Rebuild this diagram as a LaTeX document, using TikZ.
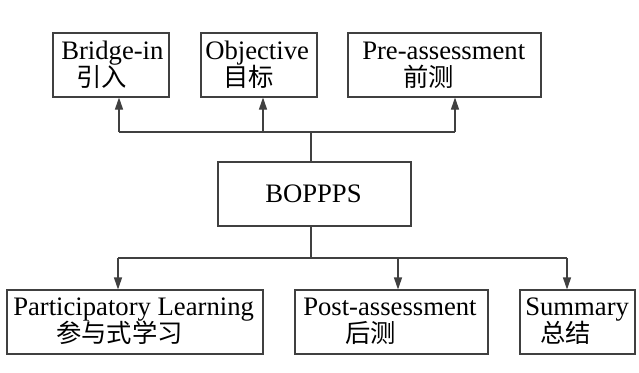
\documentclass[tikz,border=0pt]{standalone}
\usepackage{fontspec}
\setmainfont{Liberation Serif}
\newfontfamily\cjk{Noto Sans CJK SC}
\usetikzlibrary{arrows.meta}
\begin{document}
\begin{tikzpicture}[x=0.75pt,y=-0.75pt,
  box/.style={draw=black!75, line width=0.8pt, rectangle, inner sep=0pt, minimum height=48pt},
  en/.style={font=\fontsize{20}{24}\selectfont, anchor=base west, inner sep=0pt},
  zh/.style={font=\cjk\fontsize{19}{22}\selectfont, anchor=west, inner sep=0pt},
  link/.style={draw=black!75, line width=0.8pt},
  arr/.style={link, -{Triangle[width=6pt,length=9pt]}}]
\useasboundingbox (0,0) rectangle (639,372);
% boxes
\node[box, minimum width=87pt] (bridge) at (111,65) {};
\node[box, minimum width=87pt] (objective) at (259,65) {};
\node[box, minimum width=144.75pt] (pre) at (444.5,65) {};
\node[box, minimum width=144.75pt] (boppps) at (314.5,194) {};
\node[box, minimum width=192pt] (part) at (135,322) {};
\node[box, minimum width=144.75pt] (post) at (391.5,322) {};
\node[box, minimum width=86.25pt] (summary) at (577.5,322) {};
% labels
\node[en] (t1) at (61,59) {Bridge-in};
\node[zh] (c1) at (76,77) {引入};
\node[en] (t2) at (205,59) {Objective};
\node[zh] (c2) at (223,77) {目标};
\node[en] (t3) at (362,59) {Pre-assessment};
\node[zh] (c3) at (403,77) {前测};
\node[en] (t0) at (265,202) {BOPPPS};
\node[en] (t4) at (13,315) {Participatory Learning};
\node[zh] (c4) at (56,333) {参与式学习};
\node[en] (t5) at (303,315) {Post-assessment};
\node[zh] (c5) at (345,333) {后测};
\node[en] (t6) at (525,315) {Summary};
\node[zh] (c6) at (540,333) {总结};
% junctions
\coordinate (jt) at (311,132);
\coordinate (jb) at (311,258);
\coordinate (ta) at (119,132);
\coordinate (tb) at (263,132);
\coordinate (tc) at (455,132);
\coordinate (ba) at (118,258);
\coordinate (bb) at (398,258);
\coordinate (bc) at (567,258);
% connectors
\draw[link] (jt |- boppps.north) -- (jt);
\draw[link] (ta) -- (tc);
\draw[arr] (ta) -- (ta |- bridge.south);
\draw[arr] (tb) -- (tb |- objective.south);
\draw[arr] (tc) -- (tc |- pre.south);
\draw[link] (jb |- boppps.south) -- (jb);
\draw[link] (ba) -- (bc);
\draw[arr] (ba) -- (ba |- part.north);
\draw[arr] (bb) -- (bb |- post.north);
\draw[arr] (bc) -- (bc |- summary.north);
\end{tikzpicture}
\end{document}
